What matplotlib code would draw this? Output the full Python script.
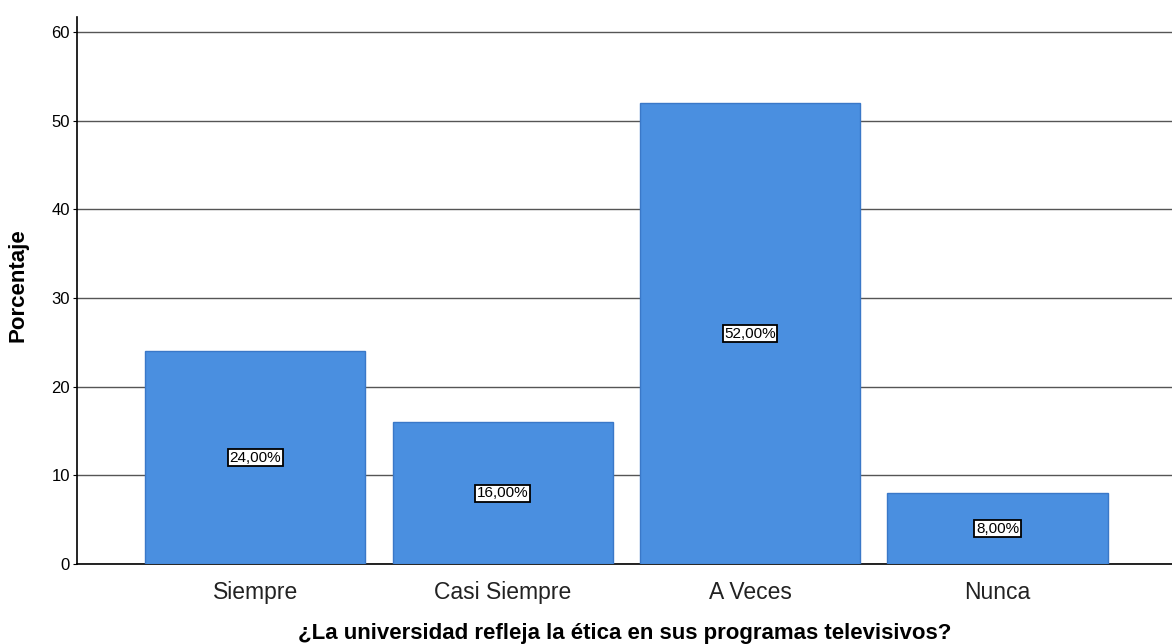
import matplotlib
matplotlib.use("Agg")
import matplotlib.pyplot as plt
import numpy as np

categorias = ["Siempre", "Casi Siempre", "A Veces", "Nunca"]
porcentajes = [24.0, 16.0, 52.0, 8.0]
etiquetas = ["24,00%", "16,00%", "52,00%", "8,00%"]
yticks = [0, 10, 20, 30, 40, 50, 60]

plt.rcParams['font.family'] = ['Liberation Sans', 'DejaVu Sans']

fig = plt.figure(figsize=(11.72, 6.44), dpi=100)
ax = fig.add_axes([0.0657, 0.1242, 0.9343, 0.8494])

x = np.arange(len(categorias))
ax.bar(x, porcentajes, width=0.89, color="#4a8fe0", edgecolor="#3a78c8", linewidth=1, zorder=3)

for xi, v, lab in zip(x, porcentajes, etiquetas):
    ax.text(xi, v / 2, lab, ha="center", va="center", fontsize=11, zorder=4,
            bbox=dict(boxstyle="square,pad=0.1", facecolor="white", edgecolor="black", linewidth=1.3))

ax.set_xlim(-0.72, 3.705)
ax.set_ylim(0, 61.7)
ax.set_yticks(yticks)
ax.set_yticklabels([str(t) for t in yticks], fontsize=12)
ax.set_xticks(x)
ax.set_xticklabels(categorias, fontsize=16.5, color="#222222")
ax.tick_params(axis="x", length=0, pad=12)
ax.tick_params(axis="y", length=3, width=0.8, pad=2)
ax.yaxis.grid(True, color="#555555", linewidth=1, zorder=0)
ax.set_axisbelow(True)

for s in ["top", "right"]:
    ax.spines[s].set_visible(False)
ax.spines["left"].set_linewidth(1.2)
ax.spines["bottom"].set_linewidth(1.2)

ax.set_ylabel("Porcentaje", fontsize=16, fontweight="bold")
ax.yaxis.set_label_coords(-0.044, 0.51)
ax.set_xlabel("¿La universidad refleja la ética en sus programas televisivos?", fontsize=16,
              fontweight="bold", labelpad=14)

fig.savefig("out.png", dpi=100)
